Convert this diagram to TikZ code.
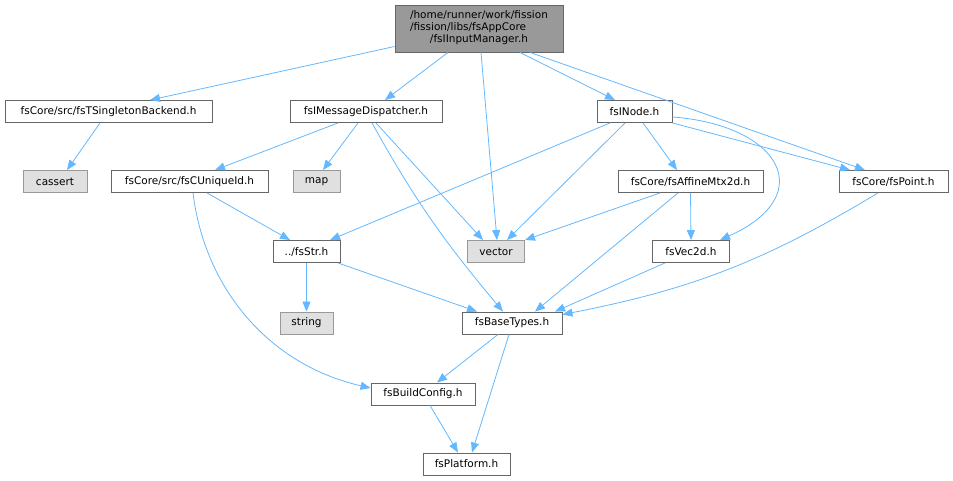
\documentclass[tikz,border=0pt]{standalone}
\usepackage{fontspec}
\setmainfont{DejaVu Sans}
\usetikzlibrary{arrows.meta,positioning}
\definecolor{edgeblue}{HTML}{63B8FF}
\tikzset{
file/.style = {draw=black!60, fill=white, rectangle, line width=0.9pt, align=center, inner sep=0pt, minimum height=22pt, font=\fontsize{10.5}{12}\selectfont},
sysfile/.style = {file, draw=black!40, fill=black!12},
rootfile/.style = {file, fill=black!40, minimum height=47pt},
dep/.style = {->, draw=edgeblue, line width=0.8pt}
}

\begin{document}
\begin{tikzpicture}[x=1pt, y=-1pt, >={Triangle[length=10pt,width=8pt]}]
   \useasboundingbox (0,0) rectangle (953,481);
   % files
   \node [rootfile, minimum width=168pt] (root) at (479,28.5)
     {\begin{tabular}{@{}l@{}}/home/runner/work/fission\\/fission/libs/fsAppCore\\\multicolumn{1}{@{}c@{}}{/fsIInputManager.h}\end{tabular}};
   \node [file, minimum width=207pt] (tsing) at (108.5,111.5) {fsCore/src/fsTSingletonBackend.h};
   \node [file, minimum width=152pt] (msgd) at (366,111.5) {fsIMessageDispatcher.h};
   \node [file, minimum width=75pt] (inode) at (634.5,111.5) {fsINode.h};
   \node [sysfile, minimum width=64pt] (cassert) at (55,181.5) {cassert};
   \node [file, minimum width=157pt] (cuid) at (189.5,181.5) {fsCore/src/fsCUniqueId.h};
   \node [sysfile, minimum width=47pt] (map) at (316.5,181.5) {map};
   \node [file, minimum width=145pt] (affine) at (690.5,181.5) {fsCore/fsAffineMtx2d.h};
   \node [file, minimum width=109pt] (point) at (893.5,181.5) {fsCore/fsPoint.h};
   \node [file, minimum width=67pt] (str) at (306.5,251.5) {../fsStr.h};
   \node [sysfile, minimum width=57pt] (vector) at (496,251.5) {vector};
   \node [file, minimum width=77pt] (vec2d) at (691,251.5) {fsVec2d.h};
   \node [sysfile, minimum width=53pt] (string) at (306.5,323) {string};
   \node [file, minimum width=100pt] (base) at (512,323) {fsBaseTypes.h};
   \node [file, minimum width=104pt] (build) at (423,394) {fsBuildConfig.h};
   \node [file, minimum width=87pt] (plat) at (466.5,464) {fsPlatform.h};

   % includes
   \draw [dep] ([yshift=-18pt]root.west) -- ([xshift=41.5pt]tsing.north);
   \draw [dep] ([xshift=-31pt]root.south) -- ([xshift=19pt]msgd.north);
   \draw [dep] ([xshift=2pt]root.south) -- ([xshift=1pt]vector.north);
   \draw [dep] ([xshift=41pt]root.south) -- ([xshift=-19.5pt]inode.north);
   \draw [dep] ([xshift=51pt]root.south) -- ([xshift=-28.5pt]point.north);
   \draw [dep] ([xshift=-8.5pt]tsing.south) -- ([xshift=12pt]cassert.north);
   \draw [dep] ([xshift=-28pt]msgd.south) -- ([xshift=25.5pt]cuid.north);
   \draw [dep] ([xshift=-8pt]msgd.south) -- ([xshift=6.5pt]map.north);
   \draw [dep] ([xshift=6pt]msgd.south) to[out=-61,in=130] ([xshift=-9pt]base.north);
   \draw [dep] ([xshift=10pt]msgd.south) -- ([xshift=-13pt]vector.north);
   \draw [dep] ([xshift=-24.5pt]inode.south) -- ([xshift=23.5pt]str.north);
   \draw [dep] ([xshift=-9.5pt]inode.south) -- ([xshift=11pt]vector.north);
   \draw [dep] ([xshift=8.5pt]inode.south) -- ([xshift=-13.5pt]affine.north);
   \draw [dep] ([yshift=-5.5pt]inode.east) .. controls (780,125) and (820,195) .. ([xshift=29pt]vec2d.north);
   \draw [dep] (inode.south east) -- ([xshift=-43.5pt]point.north);
   \draw [dep] ([xshift=-30.5pt]affine.south) -- (vector.north east);
   \draw [dep] ([xshift=-12.5pt]affine.south) -- ([xshift=23pt]base.north);
   \draw [dep] (affine.south) -- (vec2d.north);
   \draw [dep] ([xshift=-26pt]vec2d.south) -- ([xshift=43pt]base.north);
   \draw [dep] ([xshift=-15.5pt]point.south) to[bend left=10] ([yshift=-3pt]base.north east);
   \draw [dep] ([xshift=17.5pt]cuid.south) -- ([xshift=-16.5pt]str.north);
   \draw [dep] ([xshift=3.5pt]cuid.south) .. controls (205,290) and (270,365) .. ([yshift=6pt]build.west);
   \draw [dep] (str.south) -- (string.north);
   \draw [dep] ([xshift=31.5pt]str.south) -- ([xshift=-35pt]base.north);
   \draw [dep] ([xshift=-14pt]base.south) -- ([xshift=14pt]build.north);
   \draw [dep] ([xshift=-3pt]base.south) -- ([xshift=5.5pt]plat.north);
   \draw [dep] ([xshift=7pt]build.south) -- ([xshift=-8.5pt]plat.north);
\end{tikzpicture}
\end{document}
